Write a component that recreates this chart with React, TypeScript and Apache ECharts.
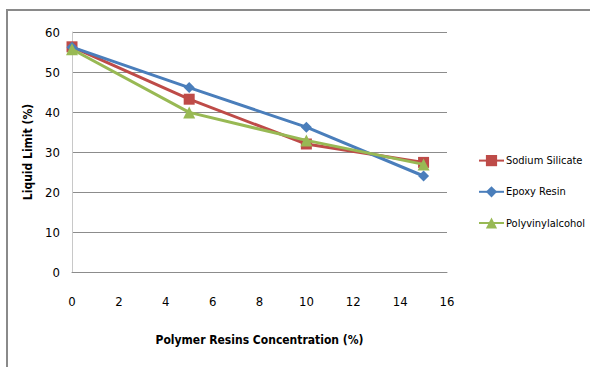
import React, { useEffect, useRef } from "react";
import * as echarts from "echarts";

// Polymer resin concentration (%) on the x axis
const concentration = [0, 5, 10, 15];

// Liquid limit (%) for each resin
const sodiumSilicate = [56.3, 43.2, 32.0, 27.4];
const epoxyResin = [56.2, 46.1, 36.2, 24.0];
const polyvinylalcohol = [55.7, 39.9, 32.9, 26.9];

const seriesNames = ["Sodium Silicate", "Epoxy Resin", "Polyvinylalcohol"];
const seriesColors = ["#BE4B48", "#4A7EBB", "#98B954"];
const seriesSymbols = ["rect", "diamond", "triangle"];
const seriesSymbolSizes = [11, 11, 12];

const FONT = "'DejaVu Sans Condensed', 'Liberation Sans', sans-serif";

export default function App() {
  const ref = useRef<HTMLDivElement>(null);

  useEffect(() => {
    if (!ref.current) return;
    const chart = echarts.init(ref.current, undefined, { renderer: "svg" });
    const values = [sodiumSilicate, epoxyResin, polyvinylalcohol];

    chart.setOption({
      animation: false,
      backgroundColor: "#ffffff",
      textStyle: { fontFamily: FONT },
      graphic: [
        {
          type: "rect",
          shape: { x: 7, y: 10, width: 600, height: 400 },
          style: { fill: "none", stroke: "#8a8a8a", lineWidth: 2 },
          silent: true,
          z: -1,
        },
      ],
      grid: { left: 72, right: 143, top: 32, bottom: 95 },
      legend: {
        orient: "vertical",
        left: 473,
        top: 150,
        itemWidth: 25,
        itemHeight: 14,
        itemGap: 20,
        textStyle: { fontFamily: FONT, fontSize: 11, color: "#000", padding: [0, 0, 0, -3] },
        data: seriesNames,
      },
      xAxis: {
        type: "value",
        min: 0,
        max: 16,
        interval: 2,
        name: "Polymer Resins Concentration (%)",
        nameLocation: "middle",
        nameGap: 62,
        nameTextStyle: { fontFamily: FONT, fontSize: 12, fontWeight: "bold", color: "#000" },
        axisLine: { show: true, lineStyle: { color: "#8c8c8c", width: 1 } },
        axisTick: { show: false },
        splitLine: { show: false },
        axisLabel: { margin: 23, fontFamily: FONT, fontSize: 13, color: "#000" },
      },
      yAxis: {
        type: "value",
        min: 0,
        max: 60,
        interval: 10,
        name: "Liquid Limit (%)",
        nameLocation: "middle",
        nameGap: 31,
        nameTextStyle: { fontFamily: FONT, fontSize: 12, fontWeight: "bold", color: "#000" },
        axisLine: { show: true, lineStyle: { color: "#c8c8c8", width: 1 } },
        axisTick: { show: false },
        splitLine: { show: true, lineStyle: { color: "#8c8c8c", width: 1 } },
        axisLabel: { margin: 12, fontFamily: FONT, fontSize: 13, color: "#000" },
      },
      series: seriesNames.map((name, i) => ({
        name,
        type: "line",
        data: concentration.map((x, j) => [x, values[i][j]]),
        symbol: seriesSymbols[i],
        symbolSize: seriesSymbolSizes[i],
        showAllSymbol: true,
        color: seriesColors[i],
        itemStyle: { color: seriesColors[i] },
        lineStyle: { color: seriesColors[i], width: 3 },
        z: 2 + i,
      })),
    });

    return () => chart.dispose();
  }, []);

  return (
    <div
      ref={ref}
      style={{ position: "fixed", left: 0, top: 0, width: 590, height: 367 }}
    />
  );
}
